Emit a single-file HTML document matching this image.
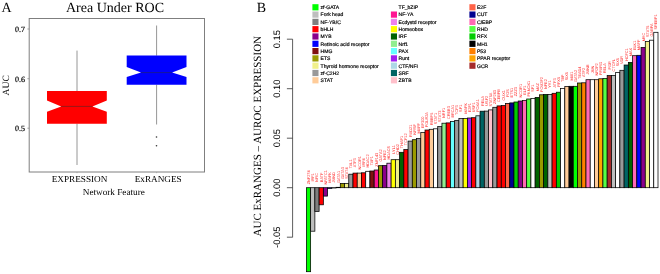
<!DOCTYPE html><html><head><meta charset="utf-8"><style>html,body{margin:0;padding:0;background:#fff;}svg{display:block;will-change:transform;text-rendering:geometricPrecision;}.s{font-family:"Liberation Serif",serif;}.a{font-family:"Liberation Sans",sans-serif;}</style></head><body>
<svg width="660" height="274" viewBox="0 0 660 274">
<rect width="660" height="274" fill="#fff"/>
<text class="s" x="1.6" y="12" font-size="14" fill="#000">A</text>
<text class="s" x="115" y="11.6" font-size="14" text-anchor="middle" fill="#000">Area Under ROC</text>
<rect x="29.2" y="18.5" width="175.3" height="153.5" fill="none" stroke="#7f7f7f" stroke-width="1"/>
<line x1="27.4" y1="29" x2="29.2" y2="29" stroke="#8c8c8c" stroke-width="0.8"/>
<text class="s" x="25" y="32.10" font-size="8" text-anchor="end" fill="#000" stroke="#000" stroke-width="0.2">0.7</text>
<line x1="27.4" y1="78.7" x2="29.2" y2="78.7" stroke="#8c8c8c" stroke-width="0.8"/>
<text class="s" x="25" y="81.80" font-size="8" text-anchor="end" fill="#000" stroke="#000" stroke-width="0.2">0.6</text>
<line x1="27.4" y1="128.2" x2="29.2" y2="128.2" stroke="#8c8c8c" stroke-width="0.8"/>
<text class="s" x="25" y="131.30" font-size="8" text-anchor="end" fill="#000" stroke="#000" stroke-width="0.2">0.5</text>
<text class="s" font-size="9.6" text-anchor="middle" fill="#000" transform="translate(9,85.3) rotate(-90)">AUC</text>
<g stroke="#8a8a8a" stroke-width="0.9">
<line x1="77" y1="50.6" x2="77" y2="91"/><line x1="77" y1="123.6" x2="77" y2="165"/>
<line x1="156.6" y1="25.5" x2="156.6" y2="55.7"/><line x1="156.6" y1="84.7" x2="156.6" y2="124.5"/>
</g>
<path d="M47 90.9 H106.8 V100.5 L92.4 106.4 L106.8 111.7 V123.7 H47 V111.7 L61.2 106.4 L47 100.5 Z" fill="#ff0000"/>
<line x1="61.2" y1="106.4" x2="92.4" y2="106.4" stroke="#8e1a1a" stroke-width="0.9"/>
<path d="M126.7 55.6 H186.5 V67 L172.1 72.6 L186.5 77.1 V84.8 H126.7 V77.1 L141 72.6 L126.7 67 Z" fill="#0000ff"/>
<line x1="141" y1="72.6" x2="172.1" y2="72.6" stroke="#1a1a8e" stroke-width="0.9"/>
<circle cx="156.5" cy="137" r="0.8" fill="#333"/><circle cx="156.5" cy="145.8" r="0.8" fill="#333"/>
<line x1="77" y1="172" x2="77" y2="173.2" stroke="#999" stroke-width="0.6"/><line x1="156.6" y1="172" x2="156.6" y2="173.2" stroke="#999" stroke-width="0.6"/>
<text class="s" x="79.5" y="181.9" font-size="9.2" text-anchor="middle" fill="#000">EXPRESSION</text>
<text class="s" x="158.2" y="181.9" font-size="9.2" text-anchor="middle" fill="#000">ExRANGES</text>
<text class="s" x="113.8" y="195.2" font-size="9.2" text-anchor="middle" fill="#000">Network Feature</text>
<text class="s" x="256.7" y="11.5" font-size="14" fill="#000">B</text>
<text class="s" font-size="11" text-anchor="middle" fill="#000" transform="translate(261,136.2) rotate(-90)">AUC ExRANGES – AUROC EXPRESSION</text>
<line x1="292.6" y1="39.2" x2="292.6" y2="237.3" stroke="#333" stroke-width="0.8"/>
<line x1="286.9" y1="39.2" x2="292.6" y2="39.2" stroke="#333" stroke-width="0.8"/>
<text class="a" font-size="9.4" text-anchor="middle" fill="#000" transform="translate(279.6,39.2) rotate(-90)">0.15</text>
<line x1="286.9" y1="88.7" x2="292.6" y2="88.7" stroke="#333" stroke-width="0.8"/>
<text class="a" font-size="9.4" text-anchor="middle" fill="#000" transform="translate(279.6,88.7) rotate(-90)">0.10</text>
<line x1="286.9" y1="138.2" x2="292.6" y2="138.2" stroke="#333" stroke-width="0.8"/>
<text class="a" font-size="9.4" text-anchor="middle" fill="#000" transform="translate(279.6,138.2) rotate(-90)">0.05</text>
<line x1="286.9" y1="187.7" x2="292.6" y2="187.7" stroke="#333" stroke-width="0.8"/>
<text class="a" font-size="9.4" text-anchor="middle" fill="#000" transform="translate(279.6,187.7) rotate(-90)">0.00</text>
<line x1="286.9" y1="237.2" x2="292.6" y2="237.2" stroke="#333" stroke-width="0.8"/>
<text class="a" font-size="9.4" text-anchor="middle" fill="#000" transform="translate(279.6,237.2) rotate(-90)">-0.05</text>
<rect x="312.4" y="4.20" width="6.1" height="6.2" fill="#00ff00"/>
<text class="a" x="320.6" y="9.10" font-size="5.05" fill="#000" stroke="#000" stroke-width="0.18">zf-GATA</text>
<rect x="312.4" y="11.50" width="6.1" height="6.2" fill="#bebebe"/>
<text class="a" x="320.6" y="16.40" font-size="5.05" fill="#000" stroke="#000" stroke-width="0.18">Fork head</text>
<rect x="312.4" y="18.80" width="6.1" height="6.2" fill="#7f7f7f"/>
<text class="a" x="320.6" y="23.70" font-size="5.05" fill="#000" stroke="#000" stroke-width="0.18">NF-YB/C</text>
<rect x="312.4" y="26.10" width="6.1" height="6.2" fill="#ff0000"/>
<text class="a" x="320.6" y="31.00" font-size="5.05" fill="#000" stroke="#000" stroke-width="0.18">bHLH</text>
<rect x="312.4" y="33.40" width="6.1" height="6.2" fill="#8b008b"/>
<text class="a" x="320.6" y="38.30" font-size="5.05" fill="#000" stroke="#000" stroke-width="0.18">MYB</text>
<rect x="312.4" y="40.70" width="6.1" height="6.2" fill="#0000ff"/>
<text class="a" x="320.6" y="45.60" font-size="5.05" fill="#000" stroke="#000" stroke-width="0.18">Retinoic acid receptor</text>
<rect x="312.4" y="48.00" width="6.1" height="6.2" fill="#7f1010"/>
<text class="a" x="320.6" y="52.90" font-size="5.05" fill="#000" stroke="#000" stroke-width="0.18">HMG</text>
<rect x="312.4" y="55.30" width="6.1" height="6.2" fill="#9a9a00"/>
<text class="a" x="320.6" y="60.20" font-size="5.05" fill="#000" stroke="#000" stroke-width="0.18">ETS</text>
<rect x="312.4" y="62.60" width="6.1" height="6.2" fill="#f0f08a"/>
<text class="a" x="320.6" y="67.50" font-size="5.05" fill="#000" stroke="#000" stroke-width="0.18">Thyroid hormone receptor</text>
<rect x="312.4" y="69.90" width="6.1" height="6.2" fill="#999999"/>
<text class="a" x="320.6" y="74.80" font-size="5.05" fill="#000" stroke="#000" stroke-width="0.18">zf-C2H2</text>
<rect x="312.4" y="77.20" width="6.1" height="6.2" fill="#ffcc99"/>
<text class="a" x="320.6" y="82.10" font-size="5.05" fill="#000" stroke="#000" stroke-width="0.18">STAT</text>
<rect x="390.9" y="4.20" width="6.1" height="6.2" fill="#ffffff"/>
<text class="a" x="398.6" y="9.10" font-size="5.05" fill="#000" stroke="#000" stroke-width="0.18">TF_bZIP</text>
<rect x="390.9" y="11.50" width="6.1" height="6.2" fill="#ff1493"/>
<text class="a" x="398.6" y="16.40" font-size="5.05" fill="#000" stroke="#000" stroke-width="0.18">NF-YA</text>
<rect x="390.9" y="18.80" width="6.1" height="6.2" fill="#ee82ee"/>
<text class="a" x="398.6" y="23.70" font-size="5.05" fill="#000" stroke="#000" stroke-width="0.18">Ecdystd receptor</text>
<rect x="390.9" y="26.10" width="6.1" height="6.2" fill="#ffff00"/>
<text class="a" x="398.6" y="31.00" font-size="5.05" fill="#000" stroke="#000" stroke-width="0.18">Homeobox</text>
<rect x="390.9" y="33.40" width="6.1" height="6.2" fill="#006400"/>
<text class="a" x="398.6" y="38.30" font-size="5.05" fill="#000" stroke="#000" stroke-width="0.18">IRF</text>
<rect x="390.9" y="40.70" width="6.1" height="6.2" fill="#90ee90"/>
<text class="a" x="398.6" y="45.60" font-size="5.05" fill="#000" stroke="#000" stroke-width="0.18">Nrf1</text>
<rect x="390.9" y="48.00" width="6.1" height="6.2" fill="#66ffff"/>
<text class="a" x="398.6" y="52.90" font-size="5.05" fill="#000" stroke="#000" stroke-width="0.18">PAX</text>
<rect x="390.9" y="55.30" width="6.1" height="6.2" fill="#a020f0"/>
<text class="a" x="398.6" y="60.20" font-size="5.05" fill="#000" stroke="#000" stroke-width="0.18">Runt</text>
<rect x="390.9" y="62.60" width="6.1" height="6.2" fill="#add8e6"/>
<text class="a" x="398.6" y="67.50" font-size="5.05" fill="#000" stroke="#000" stroke-width="0.18">CTF/NFI</text>
<rect x="390.9" y="69.90" width="6.1" height="6.2" fill="#006464"/>
<text class="a" x="398.6" y="74.80" font-size="5.05" fill="#000" stroke="#000" stroke-width="0.18">SRF</text>
<rect x="390.9" y="77.20" width="6.1" height="6.2" fill="#ffc0cb"/>
<text class="a" x="398.6" y="82.10" font-size="5.05" fill="#000" stroke="#000" stroke-width="0.18">ZBTB</text>
<rect x="469.4" y="4.20" width="6.1" height="6.2" fill="#ff6347"/>
<text class="a" x="477.0" y="9.10" font-size="5.05" fill="#000" stroke="#000" stroke-width="0.18">E2F</text>
<rect x="469.4" y="11.50" width="6.1" height="6.2" fill="#000090"/>
<text class="a" x="477.0" y="16.40" font-size="5.05" fill="#000" stroke="#000" stroke-width="0.18">CUT</text>
<rect x="469.4" y="18.80" width="6.1" height="6.2" fill="#ff69b4"/>
<text class="a" x="477.0" y="23.70" font-size="5.05" fill="#000" stroke="#000" stroke-width="0.18">C/EBP</text>
<rect x="469.4" y="26.10" width="6.1" height="6.2" fill="#55ff44"/>
<text class="a" x="477.0" y="31.00" font-size="5.05" fill="#000" stroke="#000" stroke-width="0.18">RHD</text>
<rect x="469.4" y="33.40" width="6.1" height="6.2" fill="#00cc00"/>
<text class="a" x="477.0" y="38.30" font-size="5.05" fill="#000" stroke="#000" stroke-width="0.18">RFX</text>
<rect x="469.4" y="40.70" width="6.1" height="6.2" fill="#000000"/>
<text class="a" x="477.0" y="45.60" font-size="5.05" fill="#000" stroke="#000" stroke-width="0.18">MH1</text>
<rect x="469.4" y="48.00" width="6.1" height="6.2" fill="#ff8000"/>
<text class="a" x="477.0" y="52.90" font-size="5.05" fill="#000" stroke="#000" stroke-width="0.18">P53</text>
<rect x="469.4" y="55.30" width="6.1" height="6.2" fill="#ffa500"/>
<text class="a" x="477.0" y="60.20" font-size="5.05" fill="#000" stroke="#000" stroke-width="0.18">PPAR receptor</text>
<rect x="469.4" y="62.60" width="6.1" height="6.2" fill="#a52a2a"/>
<text class="a" x="477.0" y="67.50" font-size="5.05" fill="#000" stroke="#000" stroke-width="0.18">GCR</text>
<rect x="306.40" y="187.70" width="4.24" height="84.00" fill="#00ff00" stroke="#000" stroke-width="0.75"/>
<rect x="310.64" y="187.70" width="4.24" height="43.50" fill="#bebebe" stroke="#000" stroke-width="0.75"/>
<rect x="314.87" y="187.70" width="4.24" height="23.70" fill="#7f7f7f" stroke="#000" stroke-width="0.75"/>
<rect x="319.11" y="187.70" width="4.24" height="17.10" fill="#ff0000" stroke="#000" stroke-width="0.75"/>
<rect x="323.34" y="187.70" width="4.24" height="8.40" fill="#8b008b" stroke="#000" stroke-width="0.75"/>
<rect x="327.58" y="187.70" width="4.24" height="0.70" fill="#0000ff" stroke="#000" stroke-width="0.75"/>
<rect x="331.82" y="187.70" width="4.24" height="0.30" fill="#999999" stroke="#000" stroke-width="0.75"/>
<rect x="336.05" y="187.30" width="4.24" height="0.40" fill="#ffffff" stroke="#000" stroke-width="0.75"/>
<rect x="340.29" y="183.40" width="4.24" height="4.30" fill="#9a9a00" stroke="#000" stroke-width="0.75"/>
<rect x="344.53" y="183.40" width="4.24" height="4.30" fill="#f0f08a" stroke="#000" stroke-width="0.75"/>
<rect x="348.76" y="174.20" width="4.24" height="13.50" fill="#999999" stroke="#000" stroke-width="0.75"/>
<rect x="353.00" y="173.10" width="4.24" height="14.60" fill="#ff0000" stroke="#000" stroke-width="0.75"/>
<rect x="357.23" y="173.10" width="4.24" height="14.60" fill="#ffcc99" stroke="#000" stroke-width="0.75"/>
<rect x="361.47" y="172.80" width="4.24" height="14.90" fill="#ff0000" stroke="#000" stroke-width="0.75"/>
<rect x="365.71" y="171.30" width="4.24" height="16.40" fill="#ffffff" stroke="#000" stroke-width="0.75"/>
<rect x="369.94" y="171.00" width="4.24" height="16.70" fill="#7f1010" stroke="#000" stroke-width="0.75"/>
<rect x="374.18" y="170.00" width="4.24" height="17.70" fill="#ff1493" stroke="#000" stroke-width="0.75"/>
<rect x="378.41" y="165.70" width="4.24" height="22.00" fill="#9a9a00" stroke="#000" stroke-width="0.75"/>
<rect x="382.65" y="165.50" width="4.24" height="22.20" fill="#8b008b" stroke="#000" stroke-width="0.75"/>
<rect x="386.89" y="163.20" width="4.24" height="24.50" fill="#ee82ee" stroke="#000" stroke-width="0.75"/>
<rect x="391.12" y="159.70" width="4.24" height="28.00" fill="#ffff00" stroke="#000" stroke-width="0.75"/>
<rect x="395.36" y="159.70" width="4.24" height="28.00" fill="#f0f08a" stroke="#000" stroke-width="0.75"/>
<rect x="399.60" y="152.30" width="4.24" height="35.40" fill="#006400" stroke="#000" stroke-width="0.75"/>
<rect x="403.83" y="149.60" width="4.24" height="38.10" fill="#ff0000" stroke="#000" stroke-width="0.75"/>
<rect x="408.07" y="141.10" width="4.24" height="46.60" fill="#999999" stroke="#000" stroke-width="0.75"/>
<rect x="412.30" y="139.70" width="4.24" height="48.00" fill="#9a9a00" stroke="#000" stroke-width="0.75"/>
<rect x="416.54" y="138.60" width="4.24" height="49.10" fill="#999999" stroke="#000" stroke-width="0.75"/>
<rect x="420.78" y="132.60" width="4.24" height="55.10" fill="#ffcc99" stroke="#000" stroke-width="0.75"/>
<rect x="425.01" y="130.00" width="4.24" height="57.70" fill="#ff0000" stroke="#000" stroke-width="0.75"/>
<rect x="429.25" y="129.30" width="4.24" height="58.40" fill="#ffcc99" stroke="#000" stroke-width="0.75"/>
<rect x="433.48" y="128.80" width="4.24" height="58.90" fill="#ffffff" stroke="#000" stroke-width="0.75"/>
<rect x="437.72" y="126.60" width="4.24" height="61.10" fill="#999999" stroke="#000" stroke-width="0.75"/>
<rect x="441.96" y="123.20" width="4.24" height="64.50" fill="#90ee90" stroke="#000" stroke-width="0.75"/>
<rect x="446.19" y="122.90" width="4.24" height="64.80" fill="#ff0000" stroke="#000" stroke-width="0.75"/>
<rect x="450.43" y="121.50" width="4.24" height="66.20" fill="#66ffff" stroke="#000" stroke-width="0.75"/>
<rect x="454.67" y="120.40" width="4.24" height="67.30" fill="#999999" stroke="#000" stroke-width="0.75"/>
<rect x="458.90" y="118.60" width="4.24" height="69.10" fill="#bebebe" stroke="#000" stroke-width="0.75"/>
<rect x="463.14" y="118.60" width="4.24" height="69.10" fill="#ffff00" stroke="#000" stroke-width="0.75"/>
<rect x="467.37" y="118.00" width="4.24" height="69.70" fill="#a020f0" stroke="#000" stroke-width="0.75"/>
<rect x="471.61" y="117.70" width="4.24" height="70.00" fill="#ff0000" stroke="#000" stroke-width="0.75"/>
<rect x="475.85" y="115.80" width="4.24" height="71.90" fill="#add8e6" stroke="#000" stroke-width="0.75"/>
<rect x="480.08" y="111.20" width="4.24" height="76.50" fill="#006464" stroke="#000" stroke-width="0.75"/>
<rect x="484.32" y="111.10" width="4.24" height="76.60" fill="#999999" stroke="#000" stroke-width="0.75"/>
<rect x="488.55" y="109.90" width="4.24" height="77.80" fill="#ffc0cb" stroke="#000" stroke-width="0.75"/>
<rect x="492.79" y="107.30" width="4.24" height="80.40" fill="#999999" stroke="#000" stroke-width="0.75"/>
<rect x="497.03" y="105.90" width="4.24" height="81.80" fill="#ff0000" stroke="#000" stroke-width="0.75"/>
<rect x="501.26" y="105.60" width="4.24" height="82.10" fill="#ff0000" stroke="#000" stroke-width="0.75"/>
<rect x="505.50" y="103.40" width="4.24" height="84.30" fill="#ff6347" stroke="#000" stroke-width="0.75"/>
<rect x="509.73" y="102.90" width="4.24" height="84.80" fill="#000090" stroke="#000" stroke-width="0.75"/>
<rect x="513.97" y="102.00" width="4.24" height="85.70" fill="#00cc00" stroke="#000" stroke-width="0.75"/>
<rect x="518.21" y="101.00" width="4.24" height="86.70" fill="#8b008b" stroke="#000" stroke-width="0.75"/>
<rect x="522.44" y="100.40" width="4.24" height="87.30" fill="#ff69b4" stroke="#000" stroke-width="0.75"/>
<rect x="526.68" y="99.00" width="4.24" height="88.70" fill="#55ff44" stroke="#000" stroke-width="0.75"/>
<rect x="530.92" y="98.50" width="4.24" height="89.20" fill="#ffffff" stroke="#000" stroke-width="0.75"/>
<rect x="535.15" y="97.40" width="4.24" height="90.30" fill="#006400" stroke="#000" stroke-width="0.75"/>
<rect x="539.39" y="94.80" width="4.24" height="92.90" fill="#9a9a00" stroke="#000" stroke-width="0.75"/>
<rect x="543.62" y="94.40" width="4.24" height="93.30" fill="#006400" stroke="#000" stroke-width="0.75"/>
<rect x="547.86" y="94.40" width="4.24" height="93.30" fill="#bebebe" stroke="#000" stroke-width="0.75"/>
<rect x="552.10" y="93.30" width="4.24" height="94.40" fill="#ff0000" stroke="#000" stroke-width="0.75"/>
<rect x="556.33" y="92.20" width="4.24" height="95.50" fill="#00cc00" stroke="#000" stroke-width="0.75"/>
<rect x="560.57" y="88.50" width="4.24" height="99.20" fill="#ffffff" stroke="#000" stroke-width="0.75"/>
<rect x="564.80" y="86.50" width="4.24" height="101.20" fill="#ffcc99" stroke="#000" stroke-width="0.75"/>
<rect x="569.04" y="86.30" width="4.24" height="101.40" fill="#000000" stroke="#000" stroke-width="0.75"/>
<rect x="573.28" y="86.30" width="4.24" height="101.40" fill="#00ff00" stroke="#000" stroke-width="0.75"/>
<rect x="577.51" y="83.00" width="4.24" height="104.70" fill="#9a9a00" stroke="#000" stroke-width="0.75"/>
<rect x="581.75" y="82.80" width="4.24" height="104.90" fill="#ff8000" stroke="#000" stroke-width="0.75"/>
<rect x="585.99" y="79.70" width="4.24" height="108.00" fill="#ff69b4" stroke="#000" stroke-width="0.75"/>
<rect x="590.22" y="79.70" width="4.24" height="108.00" fill="#ffffff" stroke="#000" stroke-width="0.75"/>
<rect x="594.46" y="79.70" width="4.24" height="108.00" fill="#ffcc99" stroke="#000" stroke-width="0.75"/>
<rect x="598.69" y="78.80" width="4.24" height="108.90" fill="#ffa500" stroke="#000" stroke-width="0.75"/>
<rect x="602.93" y="78.50" width="4.24" height="109.20" fill="#55ff44" stroke="#000" stroke-width="0.75"/>
<rect x="607.17" y="75.60" width="4.24" height="112.10" fill="#a52a2a" stroke="#000" stroke-width="0.75"/>
<rect x="611.40" y="75.50" width="4.24" height="112.20" fill="#bebebe" stroke="#000" stroke-width="0.75"/>
<rect x="615.64" y="72.50" width="4.24" height="115.20" fill="#ffffff" stroke="#000" stroke-width="0.75"/>
<rect x="619.87" y="70.30" width="4.24" height="117.40" fill="#999999" stroke="#000" stroke-width="0.75"/>
<rect x="624.11" y="65.00" width="4.24" height="122.70" fill="#006464" stroke="#000" stroke-width="0.75"/>
<rect x="628.35" y="62.40" width="4.24" height="125.30" fill="#006400" stroke="#000" stroke-width="0.75"/>
<rect x="632.58" y="55.70" width="4.24" height="132.00" fill="#ff69b4" stroke="#000" stroke-width="0.75"/>
<rect x="636.82" y="55.30" width="4.24" height="132.40" fill="#0000ff" stroke="#000" stroke-width="0.75"/>
<rect x="641.06" y="47.40" width="4.24" height="140.30" fill="#8b008b" stroke="#000" stroke-width="0.75"/>
<rect x="645.29" y="41.60" width="4.24" height="146.10" fill="#f0f08a" stroke="#000" stroke-width="0.75"/>
<rect x="649.53" y="40.20" width="4.24" height="147.50" fill="#ffffff" stroke="#000" stroke-width="0.75"/>
<rect x="653.76" y="32.30" width="4.24" height="155.40" fill="#ffffff" stroke="#000" stroke-width="0.75"/>
<text class="a" font-size="3.85" text-anchor="middle" fill="#ff2a2a" transform="translate(309.87,177.40) rotate(-90)">ZNF274</text>
<text class="a" font-size="3.85" text-anchor="middle" fill="#ff2a2a" transform="translate(314.10,177.40) rotate(-90)">IRF1</text>
<text class="a" font-size="3.85" text-anchor="middle" fill="#ff2a2a" transform="translate(318.34,177.40) rotate(-90)">NFIC</text>
<text class="a" font-size="3.85" text-anchor="middle" fill="#ff2a2a" transform="translate(322.58,177.40) rotate(-90)">BATF</text>
<text class="a" font-size="3.85" text-anchor="middle" fill="#ff2a2a" transform="translate(326.81,177.40) rotate(-90)">NFATC1</text>
<text class="a" font-size="3.85" text-anchor="middle" fill="#ff2a2a" transform="translate(331.05,177.40) rotate(-90)">MAFK</text>
<text class="a" font-size="3.85" text-anchor="middle" fill="#ff2a2a" transform="translate(335.28,177.40) rotate(-90)">JUND</text>
<text class="a" font-size="3.85" text-anchor="middle" fill="#ff2a2a" transform="translate(339.52,177.00) rotate(-90)">GATA1</text>
<text class="a" font-size="3.85" text-anchor="middle" fill="#ff2a2a" transform="translate(343.76,173.10) rotate(-90)">GATA3</text>
<text class="a" font-size="3.85" text-anchor="middle" fill="#ff2a2a" transform="translate(347.99,173.10) rotate(-90)">STAT4</text>
<text class="a" font-size="3.85" text-anchor="middle" fill="#ff2a2a" transform="translate(352.23,163.90) rotate(-90)">TAL1</text>
<text class="a" font-size="3.85" text-anchor="middle" fill="#ff2a2a" transform="translate(356.47,162.80) rotate(-90)">ATF3</text>
<text class="a" font-size="3.85" text-anchor="middle" fill="#ff2a2a" transform="translate(360.70,162.80) rotate(-90)">NCOR1</text>
<text class="a" font-size="3.85" text-anchor="middle" fill="#ff2a2a" transform="translate(364.94,162.50) rotate(-90)">IRF4</text>
<text class="a" font-size="3.85" text-anchor="middle" fill="#ff2a2a" transform="translate(369.17,161.00) rotate(-90)">HDAC2</text>
<text class="a" font-size="3.85" text-anchor="middle" fill="#ff2a2a" transform="translate(373.41,160.70) rotate(-90)">TAF1</text>
<text class="a" font-size="3.85" text-anchor="middle" fill="#ff2a2a" transform="translate(377.65,159.70) rotate(-90)">ZNF143</text>
<text class="a" font-size="3.85" text-anchor="middle" fill="#ff2a2a" transform="translate(381.88,155.40) rotate(-90)">GATA2</text>
<text class="a" font-size="3.85" text-anchor="middle" fill="#ff2a2a" transform="translate(386.12,155.20) rotate(-90)">NFE2</text>
<text class="a" font-size="3.85" text-anchor="middle" fill="#ff2a2a" transform="translate(390.35,152.90) rotate(-90)">HDAC8</text>
<text class="a" font-size="3.85" text-anchor="middle" fill="#ff2a2a" transform="translate(394.59,149.40) rotate(-90)">LYL1</text>
<text class="a" font-size="3.85" text-anchor="middle" fill="#ff2a2a" transform="translate(398.83,149.40) rotate(-90)">CHD2</text>
<text class="a" font-size="3.85" text-anchor="middle" fill="#ff2a2a" transform="translate(403.06,142.00) rotate(-90)">THAP1</text>
<text class="a" font-size="3.85" text-anchor="middle" fill="#ff2a2a" transform="translate(407.30,139.30) rotate(-90)">TCF12</text>
<text class="a" font-size="3.85" text-anchor="middle" fill="#ff2a2a" transform="translate(411.54,130.80) rotate(-90)">RAD21</text>
<text class="a" font-size="3.85" text-anchor="middle" fill="#ff2a2a" transform="translate(415.77,129.40) rotate(-90)">NRSF</text>
<text class="a" font-size="3.85" text-anchor="middle" fill="#ff2a2a" transform="translate(420.01,128.30) rotate(-90)">MAFF</text>
<text class="a" font-size="3.85" text-anchor="middle" fill="#ff2a2a" transform="translate(424.24,122.30) rotate(-90)">EP300</text>
<text class="a" font-size="3.85" text-anchor="middle" fill="#ff2a2a" transform="translate(428.48,119.70) rotate(-90)">POLR2A</text>
<text class="a" font-size="3.85" text-anchor="middle" fill="#ff2a2a" transform="translate(432.72,119.00) rotate(-90)">RBBP5</text>
<text class="a" font-size="3.85" text-anchor="middle" fill="#ff2a2a" transform="translate(436.95,118.50) rotate(-90)">STAT1</text>
<text class="a" font-size="3.85" text-anchor="middle" fill="#ff2a2a" transform="translate(441.19,116.30) rotate(-90)">STAT3</text>
<text class="a" font-size="3.85" text-anchor="middle" fill="#ff2a2a" transform="translate(445.42,112.90) rotate(-90)">NRF1</text>
<text class="a" font-size="3.85" text-anchor="middle" fill="#ff2a2a" transform="translate(449.66,112.60) rotate(-90)">CREB3</text>
<text class="a" font-size="3.85" text-anchor="middle" fill="#ff2a2a" transform="translate(453.90,111.20) rotate(-90)">BRCA1</text>
<text class="a" font-size="3.85" text-anchor="middle" fill="#ff2a2a" transform="translate(458.13,110.10) rotate(-90)">TCF3</text>
<text class="a" font-size="3.85" text-anchor="middle" fill="#ff2a2a" transform="translate(462.37,108.30) rotate(-90)">SP1</text>
<text class="a" font-size="3.85" text-anchor="middle" fill="#ff2a2a" transform="translate(466.61,108.30) rotate(-90)">MAFK</text>
<text class="a" font-size="3.85" text-anchor="middle" fill="#ff2a2a" transform="translate(470.84,107.70) rotate(-90)">E2F1</text>
<text class="a" font-size="3.85" text-anchor="middle" fill="#ff2a2a" transform="translate(475.08,107.40) rotate(-90)">USF1</text>
<text class="a" font-size="3.85" text-anchor="middle" fill="#ff2a2a" transform="translate(479.31,105.50) rotate(-90)">FOXA1</text>
<text class="a" font-size="3.85" text-anchor="middle" fill="#ff2a2a" transform="translate(483.55,100.90) rotate(-90)">RELA</text>
<text class="a" font-size="3.85" text-anchor="middle" fill="#ff2a2a" transform="translate(487.79,100.80) rotate(-90)">USF2</text>
<text class="a" font-size="3.85" text-anchor="middle" fill="#ff2a2a" transform="translate(492.02,99.60) rotate(-90)">STAT5A</text>
<text class="a" font-size="3.85" text-anchor="middle" fill="#ff2a2a" transform="translate(496.26,97.00) rotate(-90)">ZNF263</text>
<text class="a" font-size="3.85" text-anchor="middle" fill="#ff2a2a" transform="translate(500.49,95.60) rotate(-90)">CEBPB</text>
<text class="a" font-size="3.85" text-anchor="middle" fill="#ff2a2a" transform="translate(504.73,95.30) rotate(-90)">CUX1</text>
<text class="a" font-size="3.85" text-anchor="middle" fill="#ff2a2a" transform="translate(508.97,93.10) rotate(-90)">FOS</text>
<text class="a" font-size="3.85" text-anchor="middle" fill="#ff2a2a" transform="translate(513.20,92.60) rotate(-90)">ETS1</text>
<text class="a" font-size="3.85" text-anchor="middle" fill="#ff2a2a" transform="translate(517.44,91.70) rotate(-90)">ZZZ3</text>
<text class="a" font-size="3.85" text-anchor="middle" fill="#ff2a2a" transform="translate(521.68,90.70) rotate(-90)">NCOR1</text>
<text class="a" font-size="3.85" text-anchor="middle" fill="#ff2a2a" transform="translate(525.91,90.10) rotate(-90)">ELF1</text>
<text class="a" font-size="3.85" text-anchor="middle" fill="#ff2a2a" transform="translate(530.15,88.70) rotate(-90)">PKNOX1</text>
<text class="a" font-size="3.85" text-anchor="middle" fill="#ff2a2a" transform="translate(534.38,88.20) rotate(-90)">SP1</text>
<text class="a" font-size="3.85" text-anchor="middle" fill="#ff2a2a" transform="translate(538.62,87.10) rotate(-90)">MAZ</text>
<text class="a" font-size="3.85" text-anchor="middle" fill="#ff2a2a" transform="translate(542.86,84.50) rotate(-90)">POU2F2</text>
<text class="a" font-size="3.85" text-anchor="middle" fill="#ff2a2a" transform="translate(547.09,84.10) rotate(-90)">NFE2</text>
<text class="a" font-size="3.85" text-anchor="middle" fill="#ff2a2a" transform="translate(551.33,84.10) rotate(-90)">YY1</text>
<text class="a" font-size="3.85" text-anchor="middle" fill="#ff2a2a" transform="translate(555.56,83.00) rotate(-90)">ATF3</text>
<text class="a" font-size="3.85" text-anchor="middle" fill="#ff2a2a" transform="translate(559.80,81.90) rotate(-90)">RFX5</text>
<text class="a" font-size="3.85" text-anchor="middle" fill="#ff2a2a" transform="translate(564.04,78.20) rotate(-90)">TBP</text>
<text class="a" font-size="3.85" text-anchor="middle" fill="#ff2a2a" transform="translate(568.27,76.20) rotate(-90)">SIX5</text>
<text class="a" font-size="3.85" text-anchor="middle" fill="#ff2a2a" transform="translate(572.51,76.00) rotate(-90)">MXI1</text>
<text class="a" font-size="3.85" text-anchor="middle" fill="#ff2a2a" transform="translate(576.75,76.00) rotate(-90)">GATA2</text>
<text class="a" font-size="3.85" text-anchor="middle" fill="#ff2a2a" transform="translate(580.98,72.70) rotate(-90)">TEAD4</text>
<text class="a" font-size="3.85" text-anchor="middle" fill="#ff2a2a" transform="translate(585.22,72.50) rotate(-90)">ATF2</text>
<text class="a" font-size="3.85" text-anchor="middle" fill="#ff2a2a" transform="translate(589.45,69.40) rotate(-90)">JUNB</text>
<text class="a" font-size="3.85" text-anchor="middle" fill="#ff2a2a" transform="translate(593.69,69.40) rotate(-90)">JUN</text>
<text class="a" font-size="3.85" text-anchor="middle" fill="#ff2a2a" transform="translate(597.93,69.40) rotate(-90)">NR2F2</text>
<text class="a" font-size="3.85" text-anchor="middle" fill="#ff2a2a" transform="translate(602.16,68.50) rotate(-90)">PPARG</text>
<text class="a" font-size="3.85" text-anchor="middle" fill="#ff2a2a" transform="translate(606.40,68.20) rotate(-90)">RELA</text>
<text class="a" font-size="3.85" text-anchor="middle" fill="#ff2a2a" transform="translate(610.63,65.30) rotate(-90)">PGR</text>
<text class="a" font-size="3.85" text-anchor="middle" fill="#ff2a2a" transform="translate(614.87,65.20) rotate(-90)">CTCFL</text>
<text class="a" font-size="3.85" text-anchor="middle" fill="#ff2a2a" transform="translate(619.11,62.20) rotate(-90)">SIX5</text>
<text class="a" font-size="3.85" text-anchor="middle" fill="#ff2a2a" transform="translate(623.34,60.00) rotate(-90)">VDR</text>
<text class="a" font-size="3.85" text-anchor="middle" fill="#ff2a2a" transform="translate(627.58,54.70) rotate(-90)">HCFC1</text>
<text class="a" font-size="3.85" text-anchor="middle" fill="#ff2a2a" transform="translate(631.82,52.10) rotate(-90)">MAX</text>
<text class="a" font-size="3.85" text-anchor="middle" fill="#ff2a2a" transform="translate(636.05,45.40) rotate(-90)">ELK1</text>
<text class="a" font-size="3.85" text-anchor="middle" fill="#ff2a2a" transform="translate(640.29,45.00) rotate(-90)">MAFF</text>
<text class="a" font-size="3.85" text-anchor="middle" fill="#ff2a2a" transform="translate(644.52,37.10) rotate(-90)">MYC</text>
<text class="a" font-size="3.85" text-anchor="middle" fill="#ff2a2a" transform="translate(648.76,31.30) rotate(-90)">STAT5</text>
<text class="a" font-size="3.85" text-anchor="middle" fill="#ff2a2a" transform="translate(653.00,29.90) rotate(-90)">GABPA</text>
<text class="a" font-size="3.85" text-anchor="middle" fill="#ff2a2a" transform="translate(657.23,22.00) rotate(-90)">SREBP1</text>
</svg></body></html>
